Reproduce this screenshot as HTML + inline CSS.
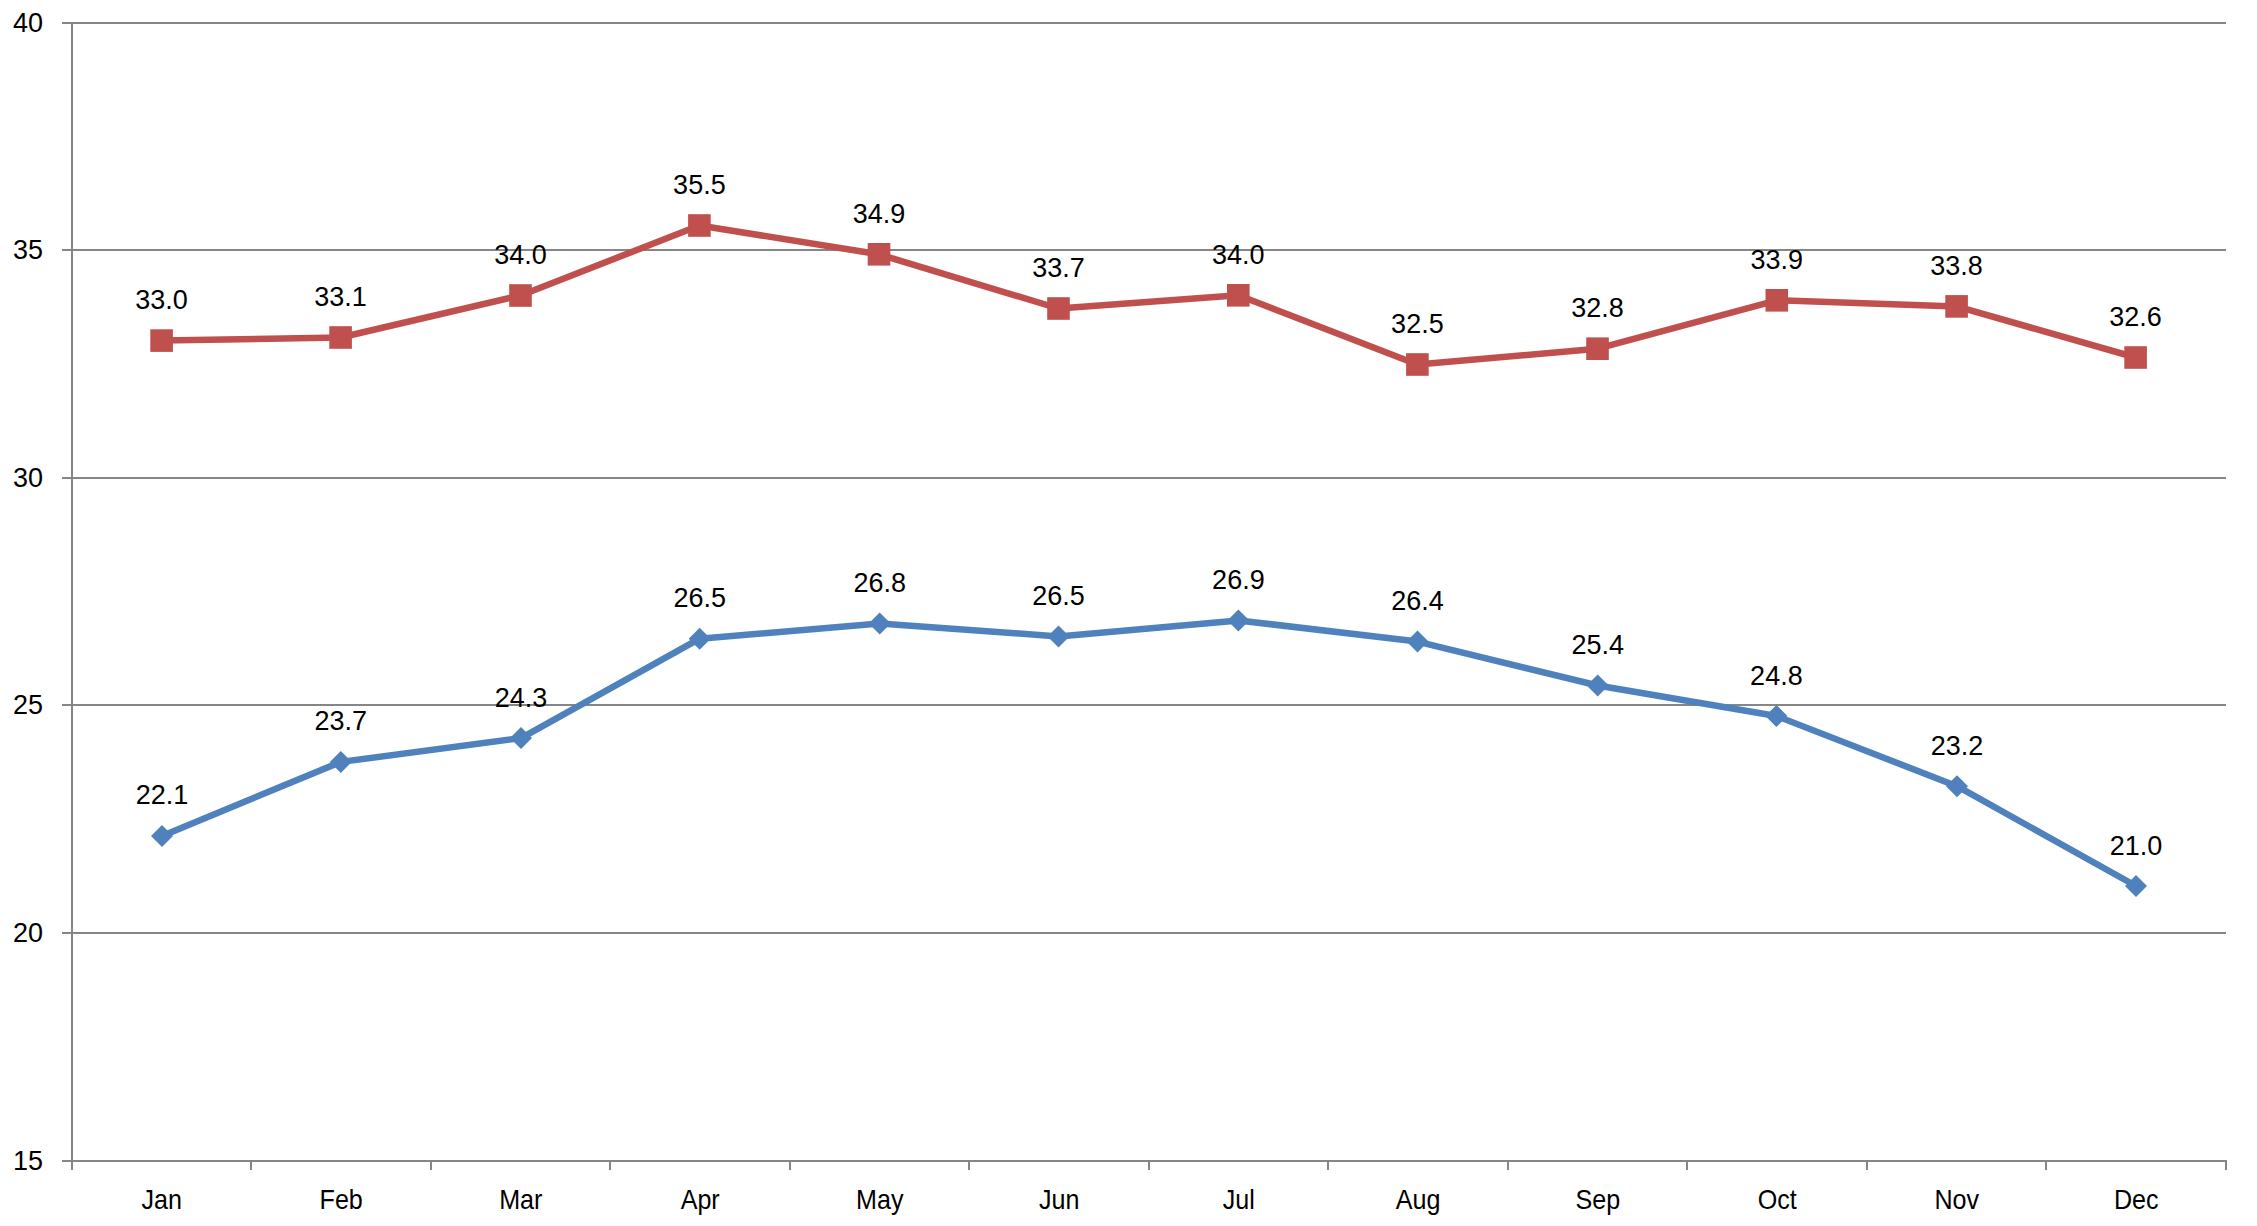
<!DOCTYPE html><html><head><meta charset="utf-8"><style>html,body{margin:0;padding:0;background:#fff;width:2257px;height:1226px;overflow:hidden}svg{display:block}text{font-family:"Liberation Sans",sans-serif;fill:#000}</style></head><body>
<svg width="2257" height="1226" viewBox="0 0 2257 1226">
<rect width="2257" height="1226" fill="#fff"/>
<rect x="62" y="22" width="2164" height="2" fill="#868686"/>
<rect x="62" y="249" width="2164" height="2" fill="#868686"/>
<rect x="62" y="477" width="2164" height="2" fill="#868686"/>
<rect x="62" y="704" width="2164" height="2" fill="#868686"/>
<rect x="62" y="932" width="2164" height="2" fill="#868686"/>
<rect x="62" y="1160" width="2165" height="2" fill="#868686"/>
<rect x="71" y="22" width="2" height="1148" fill="#868686"/>
<rect x="250" y="1160" width="2" height="10" fill="#868686"/>
<rect x="430" y="1160" width="2" height="10" fill="#868686"/>
<rect x="609" y="1160" width="2" height="10" fill="#868686"/>
<rect x="789" y="1160" width="2" height="10" fill="#868686"/>
<rect x="968" y="1160" width="2" height="10" fill="#868686"/>
<rect x="1148" y="1160" width="2" height="10" fill="#868686"/>
<rect x="1327" y="1160" width="2" height="10" fill="#868686"/>
<rect x="1507" y="1160" width="2" height="10" fill="#868686"/>
<rect x="1686" y="1160" width="2" height="10" fill="#868686"/>
<rect x="1866" y="1160" width="2" height="10" fill="#868686"/>
<rect x="2045" y="1160" width="2" height="10" fill="#868686"/>
<rect x="2225" y="1160" width="2" height="10" fill="#868686"/>
<text x="43" y="31.5" font-size="27" text-anchor="end">40</text>
<text x="43" y="258.5" font-size="27" text-anchor="end">35</text>
<text x="43" y="486.5" font-size="27" text-anchor="end">30</text>
<text x="43" y="713.5" font-size="27" text-anchor="end">25</text>
<text x="43" y="941.5" font-size="27" text-anchor="end">20</text>
<text x="43" y="1169.5" font-size="27" text-anchor="end">15</text>
<text transform="translate(161.8,1209) scale(0.93,1)" font-size="27" text-anchor="middle">Jan</text>
<text transform="translate(341.2,1209) scale(0.93,1)" font-size="27" text-anchor="middle">Feb</text>
<text transform="translate(520.8,1209) scale(0.93,1)" font-size="27" text-anchor="middle">Mar</text>
<text transform="translate(700.2,1209) scale(0.93,1)" font-size="27" text-anchor="middle">Apr</text>
<text transform="translate(879.8,1209) scale(0.93,1)" font-size="27" text-anchor="middle">May</text>
<text transform="translate(1059.2,1209) scale(0.93,1)" font-size="27" text-anchor="middle">Jun</text>
<text transform="translate(1238.8,1209) scale(0.93,1)" font-size="27" text-anchor="middle">Jul</text>
<text transform="translate(1418.2,1209) scale(0.93,1)" font-size="27" text-anchor="middle">Aug</text>
<text transform="translate(1597.8,1209) scale(0.93,1)" font-size="27" text-anchor="middle">Sep</text>
<text transform="translate(1777.2,1209) scale(0.93,1)" font-size="27" text-anchor="middle">Oct</text>
<text transform="translate(1956.8,1209) scale(0.93,1)" font-size="27" text-anchor="middle">Nov</text>
<text transform="translate(2136.2,1209) scale(0.93,1)" font-size="27" text-anchor="middle">Dec</text>
<polyline points="162,835.9 340.8,761.9 521,738.1 699.7,638.7 879.7,623.6 1058.5,636.4 1238.4,620.4 1417.5,641.6 1597.7,685.5 1776.4,716 1957,786.2 2136,886" fill="none" stroke="#4F81BD" stroke-width="6.5" stroke-linejoin="round" stroke-linecap="round"/>
<polyline points="161.6,340.6 340.6,337.5 520.5,295.5 699.4,225.5 879,254.3 1058.5,308.5 1238.3,295.3 1417.4,364.5 1597.5,348.7 1776.8,300.3 1956.6,306.4 2135.6,357.5" fill="none" stroke="#C0504D" stroke-width="6.5" stroke-linejoin="round" stroke-linecap="round"/>
<rect x="150.3" y="329.3" width="22.6" height="22.6" fill="#C0504D"/>
<rect x="329.3" y="326.2" width="22.6" height="22.6" fill="#C0504D"/>
<rect x="509.2" y="284.2" width="22.6" height="22.6" fill="#C0504D"/>
<rect x="688.1" y="214.2" width="22.6" height="22.6" fill="#C0504D"/>
<rect x="867.7" y="243.0" width="22.6" height="22.6" fill="#C0504D"/>
<rect x="1047.2" y="297.2" width="22.6" height="22.6" fill="#C0504D"/>
<rect x="1227.0" y="284.0" width="22.6" height="22.6" fill="#C0504D"/>
<rect x="1406.1" y="353.2" width="22.6" height="22.6" fill="#C0504D"/>
<rect x="1586.2" y="337.4" width="22.6" height="22.6" fill="#C0504D"/>
<rect x="1765.5" y="289.0" width="22.6" height="22.6" fill="#C0504D"/>
<rect x="1945.3" y="295.1" width="22.6" height="22.6" fill="#C0504D"/>
<rect x="2124.3" y="346.2" width="22.6" height="22.6" fill="#C0504D"/>
<path d="M162.0 824.9L173.0 835.9L162.0 846.9L151.0 835.9Z" fill="#4F81BD"/>
<path d="M340.8 750.9L351.8 761.9L340.8 772.9L329.8 761.9Z" fill="#4F81BD"/>
<path d="M521.0 727.1L532.0 738.1L521.0 749.1L510.0 738.1Z" fill="#4F81BD"/>
<path d="M699.7 627.7L710.7 638.7L699.7 649.7L688.7 638.7Z" fill="#4F81BD"/>
<path d="M879.7 612.6L890.7 623.6L879.7 634.6L868.7 623.6Z" fill="#4F81BD"/>
<path d="M1058.5 625.4L1069.5 636.4L1058.5 647.4L1047.5 636.4Z" fill="#4F81BD"/>
<path d="M1238.4 609.4L1249.4 620.4L1238.4 631.4L1227.4 620.4Z" fill="#4F81BD"/>
<path d="M1417.5 630.6L1428.5 641.6L1417.5 652.6L1406.5 641.6Z" fill="#4F81BD"/>
<path d="M1597.7 674.5L1608.7 685.5L1597.7 696.5L1586.7 685.5Z" fill="#4F81BD"/>
<path d="M1776.4 705.0L1787.4 716.0L1776.4 727.0L1765.4 716.0Z" fill="#4F81BD"/>
<path d="M1957.0 775.2L1968.0 786.2L1957.0 797.2L1946.0 786.2Z" fill="#4F81BD"/>
<path d="M2136.0 875.0L2147.0 886.0L2136.0 897.0L2125.0 886.0Z" fill="#4F81BD"/>
<text x="161.6" y="309.1" font-size="27" text-anchor="middle">33.0</text>
<text x="340.6" y="306.0" font-size="27" text-anchor="middle">33.1</text>
<text x="520.5" y="264.0" font-size="27" text-anchor="middle">34.0</text>
<text x="699.4" y="194.0" font-size="27" text-anchor="middle">35.5</text>
<text x="879.0" y="222.8" font-size="27" text-anchor="middle">34.9</text>
<text x="1058.5" y="277.0" font-size="27" text-anchor="middle">33.7</text>
<text x="1238.3" y="263.8" font-size="27" text-anchor="middle">34.0</text>
<text x="1417.4" y="333.0" font-size="27" text-anchor="middle">32.5</text>
<text x="1597.5" y="317.2" font-size="27" text-anchor="middle">32.8</text>
<text x="1776.8" y="268.8" font-size="27" text-anchor="middle">33.9</text>
<text x="1956.6" y="274.9" font-size="27" text-anchor="middle">33.8</text>
<text x="2135.6" y="326.0" font-size="27" text-anchor="middle">32.6</text>
<text x="162.0" y="804.4" font-size="27" text-anchor="middle">22.1</text>
<text x="340.8" y="730.4" font-size="27" text-anchor="middle">23.7</text>
<text x="521.0" y="706.6" font-size="27" text-anchor="middle">24.3</text>
<text x="699.7" y="607.2" font-size="27" text-anchor="middle">26.5</text>
<text x="879.7" y="592.1" font-size="27" text-anchor="middle">26.8</text>
<text x="1058.5" y="604.9" font-size="27" text-anchor="middle">26.5</text>
<text x="1238.4" y="588.9" font-size="27" text-anchor="middle">26.9</text>
<text x="1417.5" y="610.1" font-size="27" text-anchor="middle">26.4</text>
<text x="1597.7" y="654.0" font-size="27" text-anchor="middle">25.4</text>
<text x="1776.4" y="684.5" font-size="27" text-anchor="middle">24.8</text>
<text x="1957.0" y="754.7" font-size="27" text-anchor="middle">23.2</text>
<text x="2136.0" y="854.5" font-size="27" text-anchor="middle">21.0</text>
</svg></body></html>
